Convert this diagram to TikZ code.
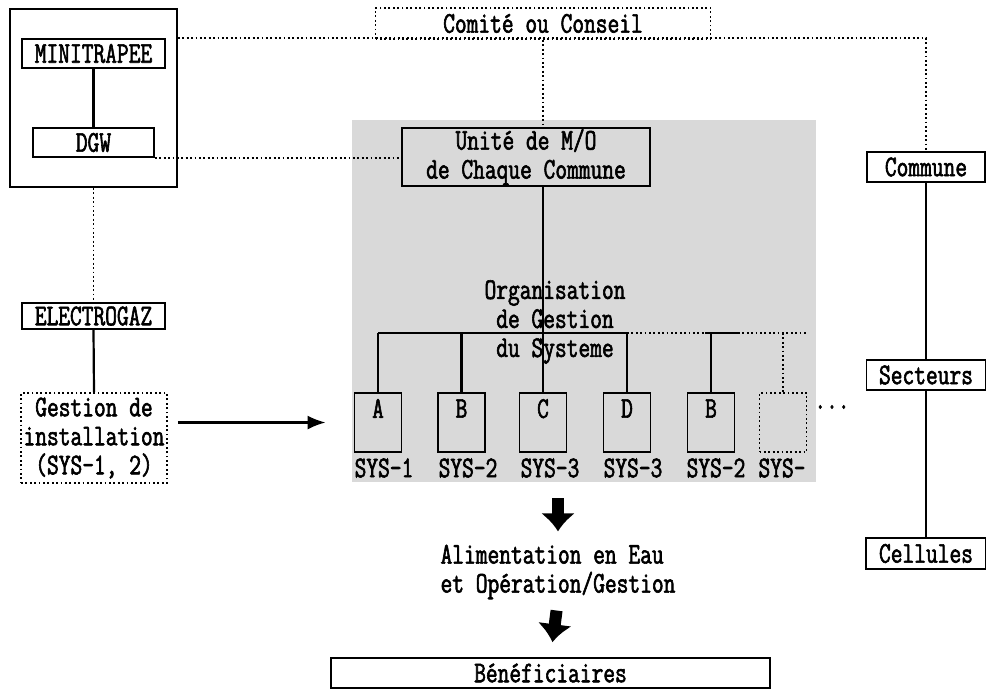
\documentclass[tikz,border=0pt]{standalone}
\usepackage{fontspec}
\newfontfamily\scanfont[FakeStretch=0.76,FakeBold=2]{Latin Modern Mono}
\usetikzlibrary{arrows.meta}

\begin{document}
\begin{tikzpicture}[x=0.5pt,y=-0.5pt,>=Latex,
  every node/.style={font={\scanfont\fontsize{15}{14.5}\selectfont},inner sep=0pt},
  box/.style={draw,line width=0.9pt},
  dotbox/.style={draw,line width=0.9pt,dash pattern=on 0.9pt off 1.3pt},
  link/.style={line width=1.1pt},
  dotlink/.style={line width=0.9pt,dash pattern=on 0.9pt off 1.3pt},
  sysbox/.style={box,minimum width=23.5pt,minimum height=29.5pt,text depth=14pt}]
  \useasboundingbox (0,0) rectangle (986,692);
  % zone grise
  \node[fill=gray!30,minimum width=232pt,minimum height=181pt] (zone) at (584,301) {};

  \node[box,minimum width=83.5pt,minimum height=89pt] (frame) at (93.5,98) {};
  \node[box,minimum width=71.5pt,minimum height=14.5pt] (minitrapee) at (93.5,53.5) {MINITRAPEE};
  \node[box,minimum width=60.5pt,minimum height=14.5pt] (dgw) at (93.5,142.5) {DGW};
  \node[box,minimum width=71.5pt,minimum height=13pt] (electrogaz) at (93.5,316) {ELECTROGAZ};
  \node[dotbox,minimum width=73pt,minimum height=45pt,align=center] (gestion) at (94,438)
    {Gestion de\\installation\\(SYS-1, 2)};

  \node[dotbox,minimum width=167.5pt,minimum height=15.5pt] (comite) at (543,23.5) {Comité ou Conseil};
  \node[box,minimum width=124pt,minimum height=29pt,align=center] (unite) at (526,157)
    {Unité de M/O\\de Chaque Commune};
  \node[align=center] (orga) at (555,322) {Organisation\\de Gestion\\du Systeme};

  \node[sysbox] (a) at (378,422.5) {A};
  \node[sysbox] (b) at (461.5,422.5) {B};
  \node[sysbox] (c) at (543,422.5) {C};
  \node[sysbox] (d) at (627,422.5) {D};
  \node[sysbox] (e) at (711,422.5) {B};
  \node[sysbox,dotbox] (f) at (783,422.5) {};
  \node (alab) at (384,468) {SYS-1};
  \node (blab) at (468,468) {SYS-2};
  \node (clab) at (550,468) {SYS-3};
  \node (dlab) at (633,468) {SYS-3};
  \node (elab) at (716,468) {SYS-2};
  \node (flab) at (782,468) {SYS-};
  \node (more) at (832,407) {...};

  \node[box,minimum width=59pt,minimum height=15pt] (commune) at (926,167) {Commune};
  \node[box,minimum width=59.5pt,minimum height=15pt] (secteurs) at (926,375) {Secteurs};
  \node[box,minimum width=60pt,minimum height=15.5pt] (cellules) at (926,553.5) {Cellules};

  \node[align=left] (alim) at (558,572) {Alimentation en Eau\\et Opération/Gestion};
  \node[box,minimum width=219.5pt,minimum height=15pt] (benef) at (550.5,673) {Bénéficiaires};

  % liaisons
  \draw[link] (minitrapee.south) -- (dgw.north);
  \draw[dotlink] (frame.east |- minitrapee.north) -- (commune.north |- minitrapee.north) -- (commune.north);
  \draw[dotlink] (dgw.south east) -- (dgw.south east -| unite.west);
  \draw[dotlink] (frame.south) -- (electrogaz.north);
  \draw[link] (electrogaz.south) -- (gestion.north);
  \draw[dotlink] (comite.south) -- (comite.south |- unite.north);
  \draw[link] (c.north |- unite.south) -- (c.north);

  \coordinate (bus) at (0,333);
  \coordinate (bus1) at (705,333);
  \coordinate (bus2) at (738,333);
  \draw[link] (a.north |- bus) -- (d.north |- bus);
  \draw[dotlink] (d.north |- bus) -- (bus1);
  \draw[link] (bus1) -- (bus2);
  \draw[dotlink] (bus2) -- (f.north east |- bus);
  \draw[link] (a.north |- bus) -- (a.north);
  \draw[link] (b.north |- bus) -- (b.north);
  \draw[link] (d.north |- bus) -- (d.north);
  \draw[link] (e.north |- bus) -- (e.north);
  \draw[dotlink] (f.north |- bus) -- (f.north);

  \draw[link,-{Latex[length=9pt,width=7pt]},shorten <=5pt,shorten >=14pt] (gestion.east |- a.west) -- (a.west);

  \draw[link] (commune.south) -- (secteurs.north);
  \draw[link] (secteurs.south) -- (cellules.north);

  \draw[line width=6pt,-{Latex[length=9pt,width=17.5pt]},shorten <=8pt,shorten >=6.5pt] (alim.north |- zone.south) -- (alim.north);
  \draw[line width=6pt,-{Latex[length=9pt,width=17.5pt]},shorten <=5.5pt,shorten >=7.5pt] (alim.south) -- (benef.north);
\end{tikzpicture}
\end{document}
